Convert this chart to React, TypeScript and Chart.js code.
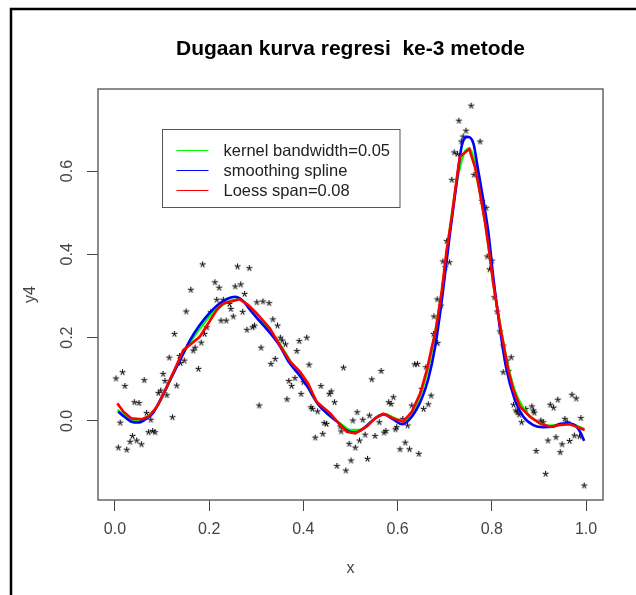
import React, { useEffect, useRef } from "react";
import { Chart, registerables } from "chart.js";

Chart.register(...registerables);

const FONT = '"Liberation Sans", Arial, sans-serif';

const TITLE = "Dugaan kurva regresi  ke-3 metode";
const X_LABEL = "x";
const Y_LABEL = "y4";
const X_TICKS = [0, 0.2, 0.4, 0.6, 0.8, 1.0];
const Y_TICKS = [0, 0.2, 0.4, 0.6];
const X_RANGE = [-0.036, 1.036];
const Y_RANGE = [-0.19, 0.797];
const LEGEND_LABELS = ["kernel bandwidth=0.05", "smoothing spline", "Loess span=0.08"];
const LEGEND_ANCHOR = [0.1, 0.7];

// observed points (y4 vs x)
const obsX = [
  0.002, 0.016, 0.021, 0.011, 0.007, 0.025, 0.037, 0.032, 0.046, 0.056,
  0.071, 0.080, 0.085, 0.067, 0.076, 0.122, 0.041, 0.051, 0.062, 0.092,
  0.097, 0.110, 0.102, 0.106, 0.131, 0.115, 0.126, 0.137, 0.147, 0.139,
  0.151, 0.161, 0.177, 0.166, 0.170, 0.183, 0.190, 0.186, 0.195, 0.203,
  0.212, 0.221, 0.216, 0.230, 0.225, 0.236, 0.243, 0.246, 0.251, 0.260,
  0.255, 0.267, 0.275, 0.285, 0.271, 0.301, 0.314, 0.327, 0.280, 0.292,
  0.296, 0.335, 0.345, 0.310, 0.351, 0.355, 0.362, 0.340, 0.331, 0.306,
  0.369, 0.365,
  0.391, 0.407, 0.386, 0.412, 0.375, 0.382, 0.400, 0.395, 0.437, 0.455,
  0.459, 0.466, 0.416, 0.419, 0.430, 0.444, 0.449, 0.441, 0.425, 0.485,
  0.478, 0.480, 0.514, 0.505, 0.526, 0.540, 0.545, 0.565, 0.531, 0.552,
  0.561, 0.571, 0.575, 0.497, 0.510, 0.519, 0.501, 0.471, 0.490, 0.536,
  0.581, 0.586, 0.591, 0.598, 0.595, 0.616, 0.605, 0.625, 0.645, 0.611,
  0.621, 0.630, 0.636, 0.642, 0.660, 0.671, 0.665, 0.655, 0.651, 0.676,
  0.685, 0.684, 0.692, 0.677,
  0.704, 0.696, 0.710, 0.701, 0.715, 0.720, 0.727, 0.735, 0.739, 0.745,
  0.730, 0.756, 0.775, 0.762, 0.779, 0.788, 0.790, 0.800, 0.795,
  0.805, 0.811, 0.817, 0.824, 0.832, 0.841,
  0.824, 0.835, 0.846, 0.851, 0.854, 0.858, 0.863, 0.872, 0.885, 0.888,
  0.890, 0.904, 0.909, 0.924, 0.931, 0.940, 0.970, 0.979, 0.955, 0.960,
  0.989, 0.975, 0.986, 0.919, 0.936, 0.949, 0.965, 0.894, 0.945, 0.914,
  0.996,
];
const obsY = [
  0.103, 0.118, 0.085, -0.003, -0.063, -0.068, -0.035, -0.049, -0.046, -0.055,
  -0.026, -0.023, -0.026, 0.020, 0.004, 0.010, 0.046, 0.044, 0.099, 0.068,
  0.074, 0.063, 0.114, 0.097, 0.086, 0.153, 0.210, 0.157, 0.146, 0.140,
  0.264, 0.316, 0.126, 0.170, 0.177, 0.189, 0.210, 0.377, 0.226, 0.262,
  0.334, 0.321, 0.292, 0.292, 0.242, 0.242, 0.282, 0.270, 0.252, 0.372,
  0.324, 0.329, 0.306, 0.368, 0.263, 0.286, 0.288, 0.284, 0.220, 0.226,
  0.230, 0.245, 0.230, 0.177, 0.201, 0.194, 0.185, 0.150, 0.138, 0.038,
  0.097, 0.053,
  0.193, 0.201, 0.169, 0.136, 0.085, 0.104, 0.094, 0.066, 0.085, 0.066,
  0.072, 0.046, 0.034, 0.030, 0.024, -0.004, -0.006, -0.030, -0.039, 0.129,
  -0.012, -0.024, 0.022, 0.002, 0.004, 0.014, 0.101, 0.121, -0.032, -0.035,
  -0.002, -0.027, -0.023, -0.054, -0.063, -0.046, -0.094, -0.107, -0.118, -0.090,
  0.046, 0.042, 0.058, -0.014, -0.019, -0.051, -0.067, -0.067, -0.078, 0.006,
  -0.010, 0.038, 0.137, 0.138, 0.130, 0.062, 0.041, 0.030, 0.078, 0.210,
  0.188, 0.293, 0.278, 0.252,
  0.433, 0.384, 0.382, 0.370, 0.580, 0.646, 0.642, 0.672, 0.684, 0.698,
  0.722, 0.758, 0.672, 0.592, 0.529, 0.513, 0.396, 0.386, 0.365,
  0.298, 0.264, 0.216, 0.182, 0.146, 0.154,
  0.118, 0.121, 0.040, 0.026, 0.022, 0.016, -0.002, 0.030, 0.036, 0.026,
  0.021, 0.002, -0.002, 0.040, 0.033, 0.052, 0.064, 0.055, 0.006, -0.002,
  0.008, -0.034, -0.036, -0.046, -0.038, -0.055, -0.047, -0.071, -0.074, -0.126,
  -0.154,
];

// kernel regression, bandwidth 0.05
const kernelX = [
  0.005, 0.02, 0.035, 0.05, 0.065, 0.08, 0.10, 0.12, 0.14, 0.16,
  0.18, 0.20, 0.22, 0.24, 0.26, 0.28, 0.30, 0.32, 0.34, 0.36,
  0.38, 0.40, 0.42, 0.44, 0.46, 0.48, 0.50, 0.52, 0.54, 0.56,
  0.575, 0.59, 0.61, 0.63, 0.65, 0.665, 0.68, 0.695, 0.71, 0.725,
  0.74, 0.752, 0.765, 0.775, 0.786, 0.795, 0.805, 0.82, 0.835, 0.85,
  0.865, 0.88, 0.90, 0.92, 0.94, 0.96, 0.98, 0.996,
];
const kernelY = [
  0.026, 0.015, 0.004, 0.002, 0.008, 0.020, 0.056, 0.105, 0.152, 0.190,
  0.222, 0.250, 0.272, 0.286, 0.292, 0.280, 0.250, 0.228, 0.200, 0.166,
  0.130, 0.102, 0.060, 0.030, 0.008, -0.008, -0.022, -0.022, -0.006, 0.012,
  0.016, 0.008, 0.000, 0.018, 0.068, 0.128, 0.215, 0.320, 0.452, 0.570,
  0.640, 0.654, 0.615, 0.548, 0.475, 0.405, 0.318, 0.215, 0.128, 0.068,
  0.034, 0.012, -0.004, -0.012, -0.010, -0.006, -0.012, -0.020,
];

// smoothing spline
const splineX = [
  0.007, 0.02, 0.035, 0.05, 0.065, 0.08, 0.10, 0.12, 0.14, 0.16,
  0.18, 0.20, 0.22, 0.24, 0.255, 0.27, 0.29, 0.31, 0.33, 0.35,
  0.37, 0.39, 0.41, 0.43, 0.45, 0.47, 0.49, 0.51, 0.53, 0.55,
  0.57, 0.59, 0.61, 0.63, 0.65, 0.665, 0.68, 0.695, 0.71, 0.725,
  0.737, 0.749, 0.761, 0.771, 0.782, 0.793, 0.803, 0.815, 0.83, 0.849,
  0.867, 0.888, 0.909, 0.93, 0.945, 0.962, 0.98, 0.989, 0.996,
];
const splineY = [
  0.022, 0.010, -0.002, -0.004, 0.004, 0.018, 0.058, 0.105, 0.150, 0.195,
  0.230, 0.258, 0.280, 0.294, 0.298, 0.290, 0.262, 0.236, 0.210, 0.180,
  0.140, 0.112, 0.080, 0.042, 0.018, 0.000, -0.022, -0.028, -0.016, 0.004,
  0.016, 0.004, -0.008, 0.010, 0.050, 0.100, 0.180, 0.300, 0.440, 0.570,
  0.665, 0.682, 0.666, 0.602, 0.530, 0.450, 0.346, 0.240, 0.130, 0.050,
  0.010, -0.010, -0.015, -0.014, -0.007, -0.006, -0.014, -0.030, -0.048,
];

// loess, span 0.08
const loessX = [
  0.005, 0.018, 0.035, 0.057, 0.071, 0.089, 0.110, 0.131, 0.145, 0.159,
  0.180, 0.198, 0.216, 0.230, 0.244, 0.265, 0.283, 0.301, 0.329, 0.350,
  0.372, 0.393, 0.410, 0.428, 0.457, 0.481, 0.492, 0.510, 0.534, 0.552,
  0.570, 0.591, 0.612, 0.630, 0.648, 0.662, 0.672, 0.681, 0.694, 0.704,
  0.715, 0.725, 0.732, 0.752, 0.764, 0.775, 0.786, 0.793, 0.803, 0.818,
  0.835, 0.846, 0.860, 0.881, 0.902, 0.924, 0.945, 0.966, 0.980, 0.997,
];
const loessY = [
  0.042, 0.022, 0.006, 0.004, 0.010, 0.034, 0.082, 0.134, 0.170, 0.182,
  0.202, 0.234, 0.266, 0.282, 0.286, 0.292, 0.278, 0.258, 0.222, 0.182,
  0.142, 0.118, 0.090, 0.046, 0.018, -0.014, -0.026, -0.030, -0.014, 0.006,
  0.017, 0.006, -0.002, 0.022, 0.066, 0.122, 0.174, 0.218, 0.314, 0.410,
  0.490, 0.578, 0.634, 0.653, 0.610, 0.546, 0.474, 0.418, 0.330, 0.225,
  0.122, 0.074, 0.034, 0.010, -0.006, -0.014, -0.010, -0.008, -0.014, -0.022,
];

const COLORS = { kernel: "#00ff00", spline: "#0000ff", loess: "#ff0000" };

function toPoints(xs: number[], ys: number[]) {
  return xs.map((x, i) => ({ x, y: ys[i] }));
}

function makeAsterisk(): HTMLCanvasElement {
  const c = document.createElement("canvas");
  c.width = 11;
  c.height = 11;
  const ctx = c.getContext("2d")!;
  ctx.fillStyle = "#000";
  ctx.font = `17px ${FONT}`;
  ctx.textAlign = "center";
  ctx.textBaseline = "alphabetic";
  ctx.fillText("*", 5.5, 5.5 + 0.58 * 17);
  return c;
}

const framePlugin = {
  id: "frame",
  beforeDraw(chart: any) {
    const ctx = chart.ctx as CanvasRenderingContext2D;
    ctx.save();
    ctx.fillStyle = "#fff";
    ctx.fillRect(0, 0, chart.width, chart.height);
    ctx.strokeStyle = "#000";
    ctx.lineWidth = 2.5;
    ctx.beginPath();
    ctx.moveTo(11, chart.height);
    ctx.lineTo(11, 9);
    ctx.lineTo(chart.width, 9);
    ctx.stroke();
    ctx.restore();
  },
  afterDraw(chart: any) {
    const ctx = chart.ctx as CanvasRenderingContext2D;
    const a = chart.chartArea;
    ctx.save();
    ctx.strokeStyle = "#666";
    ctx.lineWidth = 1.5;
    ctx.strokeRect(a.left, a.top, a.right - a.left, a.bottom - a.top);
    ctx.restore();
  },
};

const legendPlugin = {
  id: "rlegend",
  afterDraw(chart: any) {
    const ctx = chart.ctx as CanvasRenderingContext2D;
    const xs = chart.scales.x;
    const ys = chart.scales.y;
    const left = Math.round(xs.getPixelForValue(LEGEND_ANCHOR[0])) + 0.5;
    const top = Math.round(ys.getPixelForValue(LEGEND_ANCHOR[1])) + 0.5;
    ctx.save();
    ctx.font = `16.5px ${FONT}`;
    const maxW = Math.max(...LEGEND_LABELS.map((t) => ctx.measureText(t).width));
    const w = 61 + maxW + 10;
    const h = 78;
    ctx.fillStyle = "#fff";
    ctx.fillRect(left, top, w, h);
    ctx.strokeStyle = "#555";
    ctx.lineWidth = 1;
    ctx.strokeRect(left, top, w, h);
    ctx.textAlign = "left";
    ctx.textBaseline = "middle";
    LEGEND_LABELS.forEach((label, i) => {
      const ds = chart.data.datasets.find((d: any) => d.label === label);
      const y = Math.round(top + 20 + i * 20) + 0.5;
      ctx.strokeStyle = ds ? ds.borderColor : "#000";
      ctx.beginPath();
      ctx.moveTo(left + 14, y);
      ctx.lineTo(left + 46, y);
      ctx.stroke();
      ctx.fillStyle = "#222";
      ctx.fillText(label, left + 61, y + 1);
    });
    ctx.restore();
  },
};

export default function App() {
  const canvasRef = useRef<HTMLCanvasElement | null>(null);

  useEffect(() => {
    if (!canvasRef.current) return;
    Chart.defaults.font.family = FONT;
    const star = makeAsterisk();

    const chart = new Chart(canvasRef.current, {
      type: "scatter",
      data: {
        datasets: [
          {
            label: LEGEND_LABELS[2],
            data: toPoints(loessX, loessY),
            showLine: true,
            borderColor: COLORS.loess,
            backgroundColor: COLORS.loess,
            borderWidth: 2.6,
            pointRadius: 0,
            tension: 0,
            order: 0,
          },
          {
            label: LEGEND_LABELS[1],
            data: toPoints(splineX, splineY),
            showLine: true,
            borderColor: COLORS.spline,
            backgroundColor: COLORS.spline,
            borderWidth: 2.6,
            pointRadius: 0,
            cubicInterpolationMode: "monotone",
            order: 1,
          },
          {
            label: LEGEND_LABELS[0],
            data: toPoints(kernelX, kernelY),
            showLine: true,
            borderColor: COLORS.kernel,
            backgroundColor: COLORS.kernel,
            borderWidth: 2.6,
            pointRadius: 0,
            cubicInterpolationMode: "monotone",
            order: 2,
          },
          {
            label: "y4",
            data: toPoints(obsX, obsY),
            showLine: false,
            pointStyle: star as any,
            pointRadius: 5,
            borderColor: "#000",
            backgroundColor: "#000",
            order: 3,
          },
        ],
      },
      options: {
        animation: false,
        responsive: false,
        devicePixelRatio: 1,
        layout: { padding: { left: 0, right: 33, top: 0, bottom: 0 } },
        plugins: {
          legend: { display: false },
          tooltip: { enabled: false },
          title: {
            display: true,
            text: TITLE,
            fullSize: false,
            color: "#000",
            font: { size: 21, weight: "bold", family: FONT },
            padding: { top: 36.5, bottom: 27.3 },
          },
        },
        scales: {
          x: {
            type: "linear",
            min: X_RANGE[0],
            max: X_RANGE[1],
            afterBuildTicks: (s: any) => {
              s.ticks = X_TICKS.map((v) => ({ value: v }));
            },
            afterFit: (s: any) => {
              s.height = 95;
            },
            grid: {
              display: true,
              drawOnChartArea: false,
              drawTicks: true,
              tickLength: 11,
              tickColor: "#444",
              tickWidth: 1,
            },
            border: { display: false },
            ticks: {
              autoSkip: false,
              maxRotation: 0,
              minRotation: 0,
              padding: 9,
              color: "#444",
              font: { size: 16, family: FONT },
              callback: (v: any) => Number(v).toFixed(1),
            },
            title: {
              display: true,
              text: X_LABEL,
              color: "#444",
              font: { size: 16, family: FONT },
              padding: { top: 0, bottom: 17 },
            },
          },
          y: {
            type: "linear",
            min: Y_RANGE[0],
            max: Y_RANGE[1],
            afterBuildTicks: (s: any) => {
              s.ticks = Y_TICKS.map((v) => ({ value: v }));
            },
            afterFit: (s: any) => {
              s.width = 98;
            },
            grid: {
              display: true,
              drawOnChartArea: false,
              drawTicks: true,
              tickLength: 11,
              tickColor: "#444",
              tickWidth: 1,
            },
            border: { display: false },
            ticks: {
              autoSkip: false,
              minRotation: 90,
              maxRotation: 90,
              crossAlign: "center",
              padding: 8.4,
              color: "#444",
              font: { size: 16, family: FONT },
              callback: (v: any) => Number(v).toFixed(1),
            },
            title: {
              display: true,
              text: Y_LABEL,
              color: "#444",
              font: { size: 16, family: FONT },
              padding: { top: 21, bottom: 0 },
            },
          },
        },
      } as any,
      plugins: [framePlugin, legendPlugin],
    });

    return () => chart.destroy();
  }, []);

  return (
    <div style={{ position: "absolute", left: 0, top: 0, width: 636, height: 595, background: "#fff" }}>
      <canvas ref={canvasRef} width={636} height={595} style={{ display: "block" }} />
    </div>
  );
}
